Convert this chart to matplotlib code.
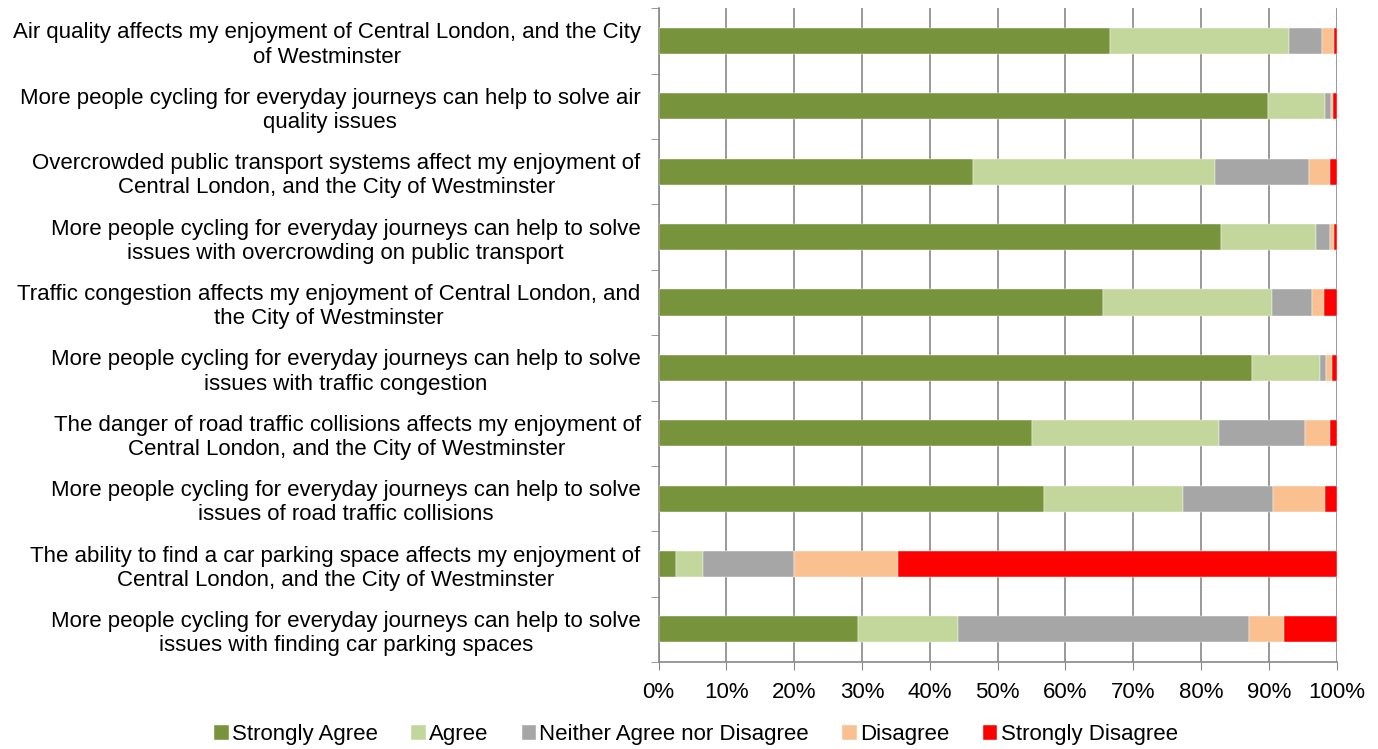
import matplotlib.pyplot as plt
import numpy as np

plt.rcParams['font.family'] = ['Liberation Sans', 'DejaVu Sans']

# survey statements, top to bottom
statements = [
    "Air quality affects my enjoyment of Central London, and the City\nof Westminster",
    "More people cycling for everyday journeys can help to solve air\nquality issues",
    "Overcrowded public transport systems affect my enjoyment of\nCentral London, and the City of Westminster",
    "More people cycling for everyday journeys can help to solve\nissues with overcrowding on public transport",
    "Traffic congestion affects my enjoyment of Central London, and\nthe City of Westminster",
    "More people cycling for everyday journeys can help to solve\nissues with traffic congestion",
    "The danger of road traffic collisions affects my enjoyment of\nCentral London, and the City of Westminster",
    "More people cycling for everyday journeys can help to solve\nissues of road traffic collisions",
    "The ability to find a car parking space affects my enjoyment of\nCentral London, and the City of Westminster",
    "More people cycling for everyday journeys can help to solve\nissues with finding car parking spaces",
]

# share of responses in %
strongly_agree = [66.5, 89.8, 46.3, 83.0, 65.6, 87.5, 55.0, 56.9, 2.5, 29.4]
agree = [26.4, 8.5, 35.7, 13.9, 24.8, 10.1, 27.7, 20.4, 4.1, 14.7]
neither = [5.0, 0.8, 13.9, 2.1, 5.9, 0.9, 12.6, 13.3, 13.3, 43.0]
disagree = [1.7, 0.3, 3.1, 0.6, 1.8, 0.8, 3.7, 7.7, 15.4, 5.2]
strongly_disagree = [0.4, 0.6, 1.0, 0.4, 1.9, 0.7, 1.0, 1.7, 64.7, 7.7]

series = [strongly_agree, agree, neither, disagree, strongly_disagree]
names = ["Strongly Agree", "Agree", "Neither Agree nor Disagree", "Disagree", "Strongly Disagree"]
colors = ["#77933C", "#C3D69B", "#A6A6A6", "#FAC090", "#FF0000"]

fig = plt.figure(figsize=(13.78, 7.49), dpi=100)
ax = fig.add_axes([0.478, 0.116, 0.492, 0.873])

y = np.arange(len(statements))
left = np.zeros(len(statements))
for vals, name, col in zip(series, names, colors):
    vals = np.array(vals)
    ax.barh(y, vals, left=left, height=0.4, color=col, label=name,
            edgecolor='white', linewidth=0.3, zorder=3)
    left += vals

ax.set_ylim(len(statements) - 0.5, -0.5)
ax.set_xlim(0, 100)
ax.set_xticks(np.arange(0, 101, 10))
ax.set_xticklabels([f"{v}%" for v in range(0, 101, 10)], fontsize=16)
ax.set_yticks(y)
ax.set_yticklabels(statements, fontsize=16, multialignment='center', linespacing=1.2)
ax.tick_params(axis='y', length=0, pad=13)
ax.set_yticks(np.arange(-0.5, len(statements), 1), minor=True)
ax.tick_params(axis='y', which='minor', length=6, color='#888888')
ax.tick_params(axis='x', length=6, color='#888888', pad=8)

ax.grid(axis='x', color='#888888', linewidth=1.2, zorder=0)
for s in ['top', 'right']:
    ax.spines[s].set_visible(False)
for s in ['left', 'bottom']:
    ax.spines[s].set_color('#888888')
    ax.spines[s].set_linewidth(1.2)

fig.legend(loc='lower center', bbox_to_anchor=(0.505, -0.022), ncol=5, frameon=False,
           fontsize=16, handlelength=0.65, handleheight=0.65, handletextpad=0.15,
           columnspacing=1.5)

fig.savefig("out.png", dpi=100)
